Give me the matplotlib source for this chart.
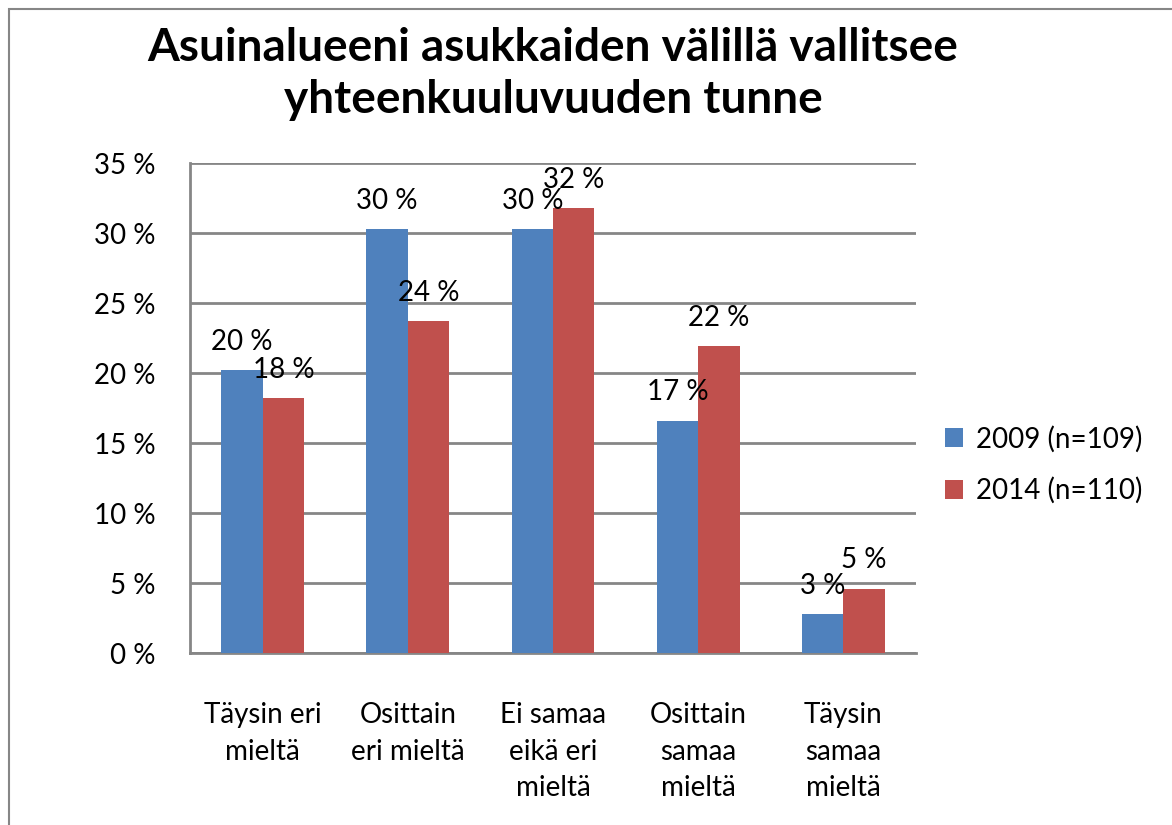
import matplotlib.pyplot as plt
from matplotlib.patches import Rectangle
import numpy as np

plt.rcParams['font.family'] = ['Lato', 'DejaVu Sans']

luokat = ["Täysin eri\nmieltä", "Osittain\neri mieltä", "Ei samaa\neikä eri\nmieltä",
          "Osittain\nsamaa\nmieltä", "Täysin\nsamaa\nmieltä"]
arvot_2009 = [20.2, 30.3, 30.3, 16.6, 2.8]
arvot_2014 = [18.2, 23.7, 31.8, 21.9, 4.6]
sarjat = ["2009 (n=109)", "2014 (n=110)"]
y_tikit = [0, 5, 10, 15, 20, 25, 30, 35]

SININEN = "#4F81BD"
PUNAINEN = "#C0504D"
HARMAA = "#868686"
FS = 20

W, H = 1172, 825
fig = plt.figure(figsize=(W / 100, H / 100), dpi=100)
fig.patch.set_facecolor("white")

# kaavion reunus
fig.patches.append(Rectangle((9 / W, -0.1), 1.2, 1.1 - 9 / H, transform=fig.transFigure,
                             fill=False, edgecolor=HARMAA, linewidth=1.5))

ax = fig.add_axes([190 / W, (H - 653) / H, 726 / W, 490 / H])

x = np.arange(len(luokat))
lev = 1 / 3.5
b1 = ax.bar(x - lev / 2, arvot_2009, lev, color=SININEN, label=sarjat[0], zorder=3)
b2 = ax.bar(x + lev / 2, arvot_2014, lev, color=PUNAINEN, label=sarjat[1], zorder=3)

ax.bar_label(b1, labels=[f"{v:.0f} %" for v in arvot_2009], padding=11, fontsize=FS)
ax.bar_label(b2, labels=[f"{v:.0f} %" for v in arvot_2014], padding=11, fontsize=FS)

ax.set_xlim(-0.5, len(luokat) - 0.5)
ax.set_ylim(0, 35)
ax.set_yticks(y_tikit)
ax.set_yticklabels([f"{t} %" for t in y_tikit], fontsize=FS)
ax.set_xticks(x)
ax.set_xticklabels(luokat, fontsize=FS, linespacing=1.52)
ax.tick_params(axis="both", length=0)
ax.tick_params(axis="y", pad=25)
ax.tick_params(axis="x", pad=35)

ax.yaxis.grid(True, color=HARMAA, linewidth=2, zorder=0)
ax.set_axisbelow(True)
for s in ["top", "right"]:
    ax.spines[s].set_visible(False)
for s in ["left", "bottom"]:
    ax.spines[s].set_color(HARMAA)
    ax.spines[s].set_linewidth(2)

fig.text(553 / W, 1 - 74 / H, "Asuinalueeni asukkaiden välillä vallitsee\nyhteenkuuluvuuden tunne",
         ha="center", va="center", fontsize=33, fontweight="bold", linespacing=1.3)

ax.legend(loc="center left", bbox_to_anchor=(1.025, 0.384), frameon=False, fontsize=FS,
          handlelength=0.65, handleheight=0.65, handletextpad=0.45, labelspacing=0.9,
          borderaxespad=0)

fig.savefig("out.png", dpi=100)
